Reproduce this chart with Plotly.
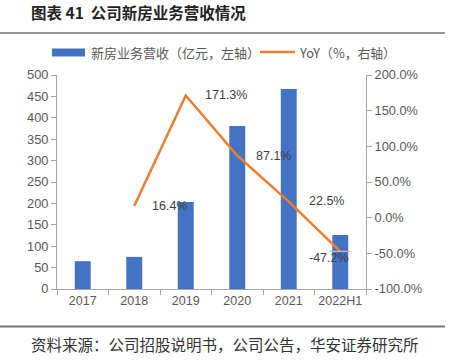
import plotly.graph_objects as go

categories = ["2017", "2018", "2019", "2020", "2021", "2022H1"]
revenue = [65, 75, 203, 381, 467, 126]
yoy_x = ["2018", "2019", "2020", "2021", "2022H1"]
yoy = [16.4, 171.3, 87.1, 22.5, -47.2]
yoy_labels = ["16.4%", "171.3%", "87.1%", "22.5%", "-47.2%"]
left_ticks = [0, 50, 100, 150, 200, 250, 300, 350, 400, 450, 500]
right_ticks = [-100, -50, 0, 50, 100, 150, 200]
right_tick_text = ["-100.0%", "-50.0%", "0.0%", "50.0%", "100.0%", "150.0%", "200.0%"]

W, H = 450, 361
L, R, T, B = 57, 84, 75, 72
pw, ph = W - L - R, H - T - B

def px(x):
    return (x - L) / pw

def py(y):
    return (H - B - y) / ph

font_num = "Liberation Sans, Arial, sans-serif"
font_cjk = "Noto Sans CJK SC, sans-serif"

fig = go.Figure()
fig.add_trace(go.Bar(
    x=categories, y=revenue, name="新房业务营收（亿元，左轴）",
    marker=dict(color="#4472C4", line=dict(width=0)), showlegend=False,
))
fig.add_trace(go.Scatter(
    x=yoy_x, y=yoy, name="YoY（%，右轴）", yaxis="y2", mode="lines",
    line=dict(color="#ED7D31", width=2.5), showlegend=False,
))
# small grey label leader mark at the last point (as in the source chart)
fig.add_trace(go.Scatter(
    x=yoy_x[-1:], y=yoy[-1:], yaxis="y2", mode="markers", showlegend=False, hoverinfo="skip",
    marker=dict(symbol="line-ew", size=14, line=dict(color="#BFBFBF", width=1.2)),
))

# data labels (x as category index)
shifts = [(16, 0), (17, 0), (17, 0), (18, 1), (-33, -7)]
for xv, yv, t, (dx, dy) in zip(yoy_x, yoy, yoy_labels, shifts):
    fig.add_annotation(x=categories.index(xv), y=yv, xref="x", yref="y2", text=t, showarrow=False,
                       xanchor="left", yanchor="middle", xshift=dx, yshift=dy,
                       font=dict(family=font_num, size=12.5, color="#404040"))

# source
fig.add_annotation(x=px(225), y=py(344), xref="paper", yref="paper",
                   text="资料来源：公司招股说明书，公司公告，华安证券研究所", showarrow=False,
                   xanchor="center", yanchor="middle",
                   font=dict(family=font_cjk, size=15.5, color="#333333"))

# manual legend
fig.add_shape(type="rect", xref="paper", yref="paper",
              x0=px(52), x1=px(85), y0=py(48.5), y1=py(56.5),
              fillcolor="#4472C4", line=dict(width=0))
fig.add_annotation(x=px(89), y=py(52), xref="paper", yref="paper",
                   text=fig.data[0].name, showarrow=False, xanchor="left", yanchor="middle",
                   font=dict(family=font_cjk, size=13, color="#595959"))
fig.add_shape(type="line", xref="paper", yref="paper",
              x0=px(260), x1=px(295), y0=py(52), y1=py(52),
              line=dict(color="#ED7D31", width=2.5))
fig.add_annotation(x=px(297), y=py(52), xref="paper", yref="paper",
                   text=fig.data[1].name, showarrow=False, xanchor="left", yanchor="middle",
                   font=dict(family=font_cjk, size=12.8, color="#595959"))

fig.add_shape(type="line", xref="paper", yref="paper",
              x0=px(0), x1=px(445), y0=py(33), y1=py(33),
              line=dict(color="#333333", width=1))
fig.add_shape(type="line", xref="paper", yref="paper",
              x0=px(0), x1=px(445), y0=py(326.5), y1=py(326.5),
              line=dict(color="#777777", width=2))

fig.update_layout(
    width=W, height=H,
    margin=dict(l=L, r=R, t=T, b=B),
    paper_bgcolor="white", plot_bgcolor="white",
    bargap=0.69,
    showlegend=False,
    title=dict(text="<b>图表 41  公司新房业务营收情况</b>", x=31 / W, xanchor="left",
               y=1 - 14 / H, yanchor="middle", xref="container", yref="container",
               font=dict(family=font_cjk, size=15.5, color="#222222")),
    xaxis=dict(type="category", categoryorder="array", categoryarray=categories,
               range=[-0.5, len(categories) - 0.5], tickangle=0,
               showgrid=False, showline=True, linecolor="#A6A6A6", linewidth=1,
               ticks="outside", tickson="boundaries", ticklen=5, tickcolor="#A6A6A6",
               tickfont=dict(family=font_num, size=12.5, color="#595959")),
    yaxis=dict(range=[0, 500], tickvals=left_ticks, showgrid=False, showline=True,
               linecolor="#A6A6A6", linewidth=1, ticks="outside", ticklen=5, tickcolor="#A6A6A6",
               tickfont=dict(family=font_num, size=12.8, color="#595959"), zeroline=False),
    yaxis2=dict(range=[-100, 200], tickvals=right_ticks, ticktext=right_tick_text,
                overlaying="y", side="right", showgrid=False, showline=True,
                linecolor="#A6A6A6", linewidth=1, ticks="outside", ticklen=5, tickcolor="#A6A6A6",
                tickfont=dict(family=font_num, size=12.8, color="#595959"), zeroline=False),
)

fig.write_html("out.html", config={"displayModeBar": False})

# remove default page margin so the figure sits at the window origin
with open("out.html", "r", encoding="utf-8") as f:
    html = f.read()
html = html.replace("<head>", "<head><style>html,body{margin:0;padding:0;overflow:hidden;}</style>", 1)
with open("out.html", "w", encoding="utf-8") as f:
    f.write(html)
